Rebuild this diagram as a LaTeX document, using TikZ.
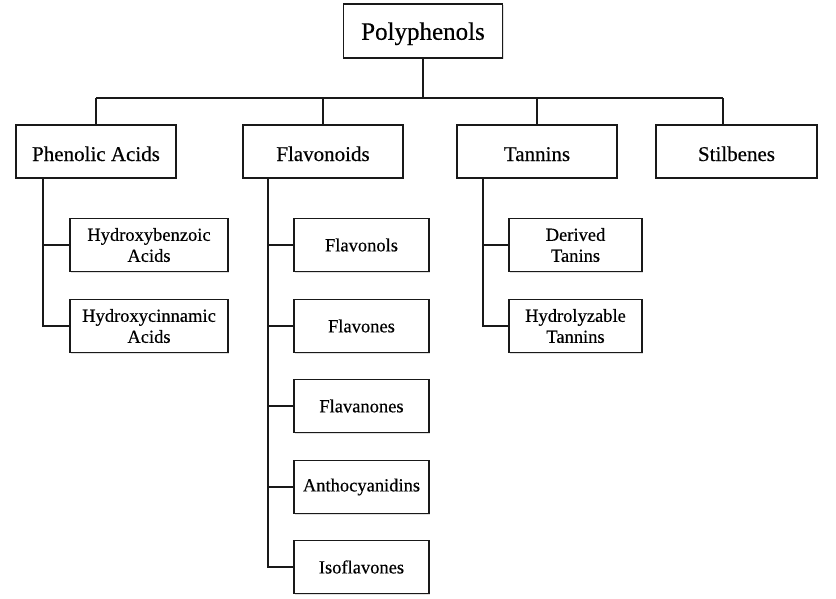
\documentclass[tikz,border=0pt]{standalone}
\usepackage{fontspec}
\setmainfont{Liberation Serif}[FakeBold=0.4]
\usetikzlibrary{shadows}
\begin{document}
\begin{tikzpicture}[x=1pt,y=-1pt,
  box/.style={draw=black!90, line width=1.2pt, fill=white, inner sep=0pt, align=center,
    drop shadow={opacity=0.25, shadow xshift=1.2pt, shadow yshift=-1.2pt}},
  topbox/.style={box, minimum width=159pt, minimum height=54pt, text height=17.5pt, text depth=0pt, font=\fontsize{25}{28}\selectfont},
  catbox/.style={box, minimum width=160pt, minimum height=53pt, text height=19pt, text depth=0pt, font=\fontsize{21}{24}\selectfont},
  subbox/.style={box, minimum height=53.5pt, font=\fontsize{18.5}{21}\selectfont},
  link/.style={draw=black!90, line width=1.6pt}]
\useasboundingbox (0,0) rectangle (836,598);
\fill[white] (0,0) rectangle (836,598);

\node[topbox] (poly) at (423,31) {Polyphenols};

\node[catbox] (phen) at (96,151.5) {Phenolic Acids};
\node[catbox] (flav) at (323,151.5) {Flavonoids};
\node[catbox] (tann) at (537,151.5) {Tannins};
\node[catbox, minimum width=161pt] (stil) at (736.5,151.5) {Stilbenes};

\node[subbox, minimum width=158pt] (hb) at (149,245) {Hydroxybenzoic\\Acids};
\node[subbox, minimum width=158pt] (hc) at (149,326) {Hydroxycinnamic\\Acids};

\node[subbox, minimum width=135pt] (fol) at (361.5,245) {Flavonols};
\node[subbox, minimum width=135pt] (fon) at (361.5,326) {Flavones};
\node[subbox, minimum width=135pt] (fan) at (361.5,406) {Flavanones};
\node[subbox, minimum width=135pt] (ant) at (361.5,487) {Anthocyanidins};
\node[subbox, minimum width=135pt] (iso) at (361.5,567) {Isoflavones};

\node[subbox, minimum width=133pt] (der) at (575.5,245) {Derived\\Tanins};
\node[subbox, minimum width=133pt] (hyd) at (575.5,326) {Hydrolyzable\\Tannins};

% bus
\coordinate (bL) at (96,98);
\coordinate (bR) at (723,98);
\coordinate (ps) at (43,178);
\coordinate (fs) at (268,178);
\coordinate (ts) at (483,178);

\draw[link] (bL) -- (bR);
\draw[link] (poly.south) -- (poly.south |- bL);
\draw[link] (phen.north) -- (phen.north |- bL);
\draw[link] (flav.north) -- (flav.north |- bL);
\draw[link] (tann.north) -- (tann.north |- bL);
\draw[link] (bR) -- (bR |- stil.north);

\draw[link] (ps) |- (hc.west);
\draw[link] (hb.west) -- (hb.west -| ps);

\draw[link] (fs) |- (iso.west);
\draw[link] (fol.west) -- (fol.west -| fs);
\draw[link] (fon.west) -- (fon.west -| fs);
\draw[link] (fan.west) -- (fan.west -| fs);
\draw[link] (ant.west) -- (ant.west -| fs);

\draw[link] (ts) |- (hyd.west);
\draw[link] (der.west) -- (der.west -| ts);
\end{tikzpicture}
\end{document}
